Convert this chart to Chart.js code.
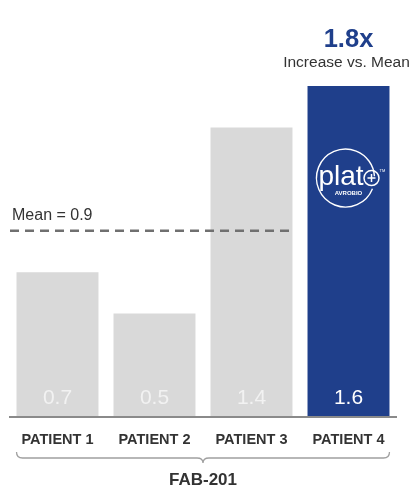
<!DOCTYPE html>
<html>
<head>
<meta charset="utf-8">
<script src="https://cdn.jsdelivr.net/npm/chart.js@4"></script>
<style>
  html, body { margin: 0; padding: 0; background: #fff; }
  #wrap { width: 412px; height: 496px; }
</style>
</head>
<body>
<div id="wrap"><canvas id="c" width="412" height="496"></canvas></div>
<script>
const categories = ['PATIENT 1', 'PATIENT 2', 'PATIENT 3', 'PATIENT 4'];
const values = [0.7, 0.5, 1.4, 1.6];
const meanValue = 0.9;
const meanLabel = 'Mean = 0.9';
const groupLabel = 'FAB-201';
const ratioLabel = '1.8x';
const ratioCaption = 'Increase vs. Mean';

const GREY = '#d9d9d9';
const BLUE = '#1f3f8b';
const FONT = '"Liberation Sans", Arial, sans-serif';

const overlay = {
  id: 'overlay',
  afterDatasetsDraw(chart) {
    const { ctx, scales: { x, y }, chartArea } = chart;
    const meta = chart.getDatasetMeta(0);
    const y0 = y.getPixelForValue(0);
    ctx.save();

    // baseline
    ctx.strokeStyle = '#8a8a8a';
    ctx.lineWidth = 2;
    ctx.beginPath();
    ctx.moveTo(chartArea.left, y0);
    ctx.lineTo(chartArea.right, y0);
    ctx.stroke();

    // value labels inside bars
    ctx.textAlign = 'center';
    ctx.textBaseline = 'middle';
    ctx.font = '21px ' + FONT;
    meta.data.forEach((bar, i) => {
      ctx.fillStyle = i === 3 ? '#ffffff' : '#f2f2f2';
      ctx.fillText(values[i].toFixed(1), bar.x, y0 - 19);
    });

    // category labels
    ctx.fillStyle = '#333333';
    ctx.font = 'bold 14.5px ' + FONT;
    meta.data.forEach((bar, i) => {
      ctx.fillText(categories[i], bar.x, y0 + 23);
    });

    // brace under the categories
    const bl = meta.data[0].x - meta.data[0].width / 2;
    const br = meta.data[3].x + meta.data[3].width / 2;
    const mid = (bl + br) / 2;
    const top = y0 + 35, flat = y0 + 41, tip = y0 + 46;
    ctx.strokeStyle = '#a0a0a0';
    ctx.lineWidth = 1.3;
    ctx.beginPath();
    ctx.moveTo(bl, top);
    ctx.quadraticCurveTo(bl, flat, bl + 6, flat);
    ctx.lineTo(mid - 6, flat);
    ctx.quadraticCurveTo(mid, flat, mid, tip);
    ctx.quadraticCurveTo(mid, flat, mid + 6, flat);
    ctx.lineTo(br - 6, flat);
    ctx.quadraticCurveTo(br, flat, br, top);
    ctx.stroke();

    // group label
    ctx.fillStyle = '#333333';
    ctx.font = 'bold 17px ' + FONT;
    ctx.fillText(groupLabel, mid, y0 + 63);

    // mean line
    const ym = y.getPixelForValue(meanValue);
    ctx.strokeStyle = '#707070';
    ctx.lineWidth = 2.5;
    ctx.setLineDash([9, 6]);
    ctx.beginPath();
    ctx.moveTo(chartArea.left + 1, ym);
    ctx.lineTo(meta.data[2].x + meta.data[2].width / 2 + 2, ym);
    ctx.stroke();
    ctx.setLineDash([]);
    ctx.fillStyle = '#333333';
    ctx.font = '16px ' + FONT;
    ctx.textAlign = 'left';
    ctx.fillText(meanLabel, chartArea.left + 3, ym - 15);

    // ratio annotation above the highlighted bar
    const b4 = meta.data[3];
    ctx.textAlign = 'center';
    ctx.fillStyle = BLUE;
    ctx.font = 'bold 25.5px ' + FONT;
    ctx.fillText(ratioLabel, b4.x, b4.y - 46);
    ctx.fillStyle = '#333333';
    ctx.font = '15.5px ' + FONT;
    ctx.fillText(ratioCaption, b4.x - 2, b4.y - 23);

    // plato badge on the highlighted bar
    const cx = b4.x - 3, cy = b4.y + 92;
    ctx.strokeStyle = '#ffffff';
    ctx.lineWidth = 1.4;
    ctx.beginPath();
    ctx.arc(cx, cy, 29, 0.12 * Math.PI, 1.98 * Math.PI);
    ctx.stroke();
    ctx.fillStyle = '#ffffff';
    ctx.textAlign = 'left';
    ctx.textBaseline = 'alphabetic';
    ctx.font = '28px ' + FONT;
    ctx.fillText('plat', cx - 27, cy + 7);
    // "o" drawn as a ring with a plus
    const ox = cx + 26, oy = cy;
    ctx.lineWidth = 1.5;
    ctx.beginPath();
    ctx.arc(ox, oy, 7.5, 0, Math.PI * 2);
    ctx.stroke();
    ctx.beginPath();
    ctx.moveTo(ox - 4, oy); ctx.lineTo(ox + 4, oy);
    ctx.moveTo(ox, oy - 4); ctx.lineTo(ox, oy + 4);
    ctx.stroke();
    ctx.textAlign = 'center';
    ctx.font = 'bold 6px ' + FONT;
    ctx.fillText('AVROBIO', cx + 3, cy + 17);
    ctx.font = '4px ' + FONT;
    ctx.fillText('TM', ox + 11, oy - 6);

    ctx.restore();
  }
};

new Chart(document.getElementById('c'), {
  type: 'bar',
  data: {
    labels: categories,
    datasets: [{
      data: values,
      backgroundColor: values.map((v, i) => i === 3 ? BLUE : GREY),
      borderWidth: 0,
      categoryPercentage: 1,
      barPercentage: 0.845
    }]
  },
  options: {
    responsive: false,
    animation: false,
    layout: { padding: { left: 9, right: 15, top: 24, bottom: 79 } },
    plugins: { legend: { display: false }, tooltip: { enabled: false } },
    scales: {
      x: { display: false },
      y: { display: false, min: 0, max: 1.9 }
    }
  },
  plugins: [overlay]
});
</script>
</body>
</html>
